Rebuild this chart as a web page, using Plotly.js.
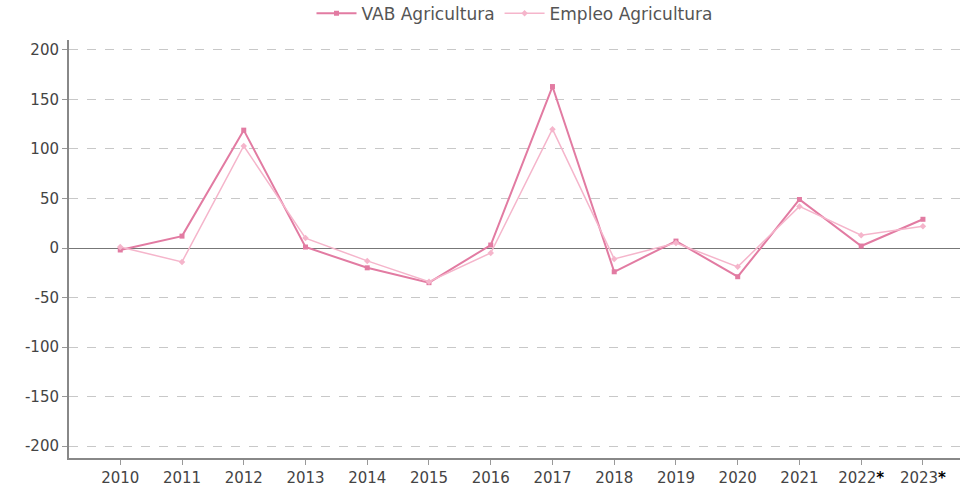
<!DOCTYPE html>
<html><head><meta charset="utf-8">
<script src="https://cdn.plot.ly/plotly-3.0.1.min.js"></script>
<style>html,body{margin:0;padding:0;background:#fff}#chart{width:976px;height:492px}</style>
</head><body><div id="chart"></div>
<script>
var years = ["2010","2011","2012","2013","2014","2015","2016","2017","2018","2019","2020","2021","2022","2023"];
var yearLabels = ["2010","2011","2012","2013","2014","2015","2016","2017","2018","2019","2020","2021",
  "2022<span style='color:#000;font-weight:bold'>*</span>",
  "2023<span style='color:#000;font-weight:bold'>*</span>"];
var vabAgricultura = [-2, 12, 119, 1, -20, -35, 3, 163, -24, 7, -29, 49, 2, 29];
var empleoAgricultura = [1, -14, 103, 10, -13, -34, -5, 120, -11, 5, -19, 42, 13, 22];
var yTicks = [-200, -150, -100, -50, 0, 50, 100, 150, 200];

var traces = [
  {x: years, y: vabAgricultura, name: "VAB Agricultura", type: "scatter", mode: "lines+markers",
   line: {color: "#e27ba2", width: 2}, marker: {color: "#e27ba2", size: 5, symbol: "square"}},
  {x: years, y: empleoAgricultura, name: "Empleo Agricultura", type: "scatter", mode: "lines+markers",
   line: {color: "#f5b5cb", width: 1.5}, marker: {color: "#f5b5cb", size: 5, symbol: "diamond"}}
];
var layout = {
  width: 976, height: 492,
  margin: {l: 69, r: 16, t: 40, b: 34},
  paper_bgcolor: "#fff", plot_bgcolor: "#fff",
  font: {family: "DejaVu Sans, sans-serif", size: 15, color: "#444"},
  showlegend: true,
  legend: {orientation: "h", x: 0.5, xanchor: "center", xref: "paper", y: 0.972, yref: "container", yanchor: "middle",
    itemwidth: 40, font: {size: 17, color: "#555"}},
  xaxis: {type: "category", range: [-0.83, 13.6], tickmode: "array", tickvals: years, ticktext: yearLabels,
    showgrid: false, zeroline: false, showline: true, linecolor: "#888", linewidth: 2,
    ticks: "outside", ticklen: 5, tickcolor: "#999", tickfont: {size: 15, color: "#444"}},
  yaxis: {range: [-212, 210], tickmode: "array", tickvals: yTicks,
    ticktext: yTicks.map(String),
    showgrid: true, gridcolor: "#c8c8c8", griddash: "dash", gridwidth: 1,
    zeroline: true, zerolinecolor: "#777", zerolinewidth: 1,
    showline: true, linecolor: "#888", linewidth: 2,
    ticks: "outside", ticklen: 5, tickcolor: "#999", tickfont: {size: 15, color: "#444"}}
};
Plotly.newPlot("chart", traces, layout, {displayModeBar: false, staticPlot: true});
</script></body></html>
